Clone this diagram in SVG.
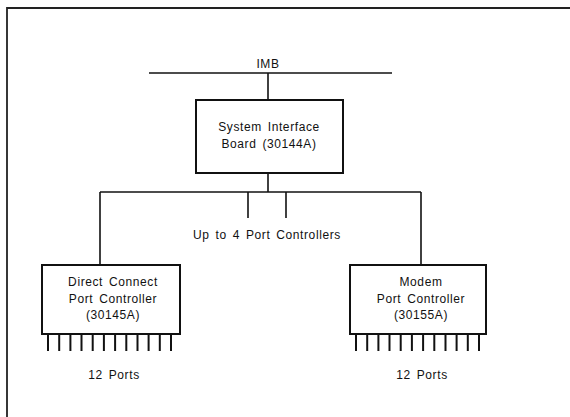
<svg xmlns="http://www.w3.org/2000/svg" width="570" height="417" viewBox="0 0 570 417">
<style>
.t{font-family:"Liberation Sans",Arial,sans-serif;font-size:12px;letter-spacing:0.6px;word-spacing:2px;fill:#111;text-anchor:middle}
.b{fill:#fff;stroke:#111;stroke-width:2}
.l{stroke:#111;stroke-width:1.6;fill:none}
.p{stroke:#111;stroke-width:2}
</style>
<rect width="570" height="417" fill="#fff"/>
<path d="M7,417 V8 H570" fill="none" stroke="#222" stroke-width="1.8"/>
<g id="connectors">
<line class="l" x1="149" y1="73" x2="392" y2="73"/>
<line class="l" x1="268" y1="73" x2="268" y2="100"/>
<line class="l" x1="268" y1="173" x2="268" y2="192"/>
<line class="l" x1="100" y1="192" x2="421" y2="192"/>
<line class="l" x1="248" y1="192" x2="248" y2="218"/>
<line class="l" x1="286" y1="192" x2="286" y2="218"/>
<line class="l" x1="100" y1="192" x2="100" y2="265"/>
<line class="l" x1="421" y1="192" x2="421" y2="265"/>
</g>
<g id="imb">
<text class="t" x="268" y="68">IMB</text>
</g>
<g id="sib">
<rect class="b" x="196" y="100" width="147" height="73"/>
<text class="t" x="269" y="131">System Interface</text>
<text class="t" x="269" y="148">Board (30144A)</text>
</g>
<g id="upto">
<text class="t" x="267" y="239">Up to 4 Port Controllers</text>
</g>
<g id="dcpc">
<rect class="b" x="42" y="265" width="138" height="69"/>
<text class="t" x="113" y="286">Direct Connect</text>
<text class="t" x="113" y="303">Port Controller</text>
<text class="t" x="113" y="319">(30145A)</text>
<g class="p">
<line x1="48" y1="334" x2="48" y2="351"/>
<line x1="59.2" y1="334" x2="59.2" y2="351"/>
<line x1="70.4" y1="334" x2="70.4" y2="351"/>
<line x1="81.5" y1="334" x2="81.5" y2="351"/>
<line x1="92.7" y1="334" x2="92.7" y2="351"/>
<line x1="103.9" y1="334" x2="103.9" y2="351"/>
<line x1="115.1" y1="334" x2="115.1" y2="351"/>
<line x1="126.3" y1="334" x2="126.3" y2="351"/>
<line x1="137.5" y1="334" x2="137.5" y2="351"/>
<line x1="148.6" y1="334" x2="148.6" y2="351"/>
<line x1="159.8" y1="334" x2="159.8" y2="351"/>
<line x1="171" y1="334" x2="171" y2="351"/>
</g>
<text class="t" x="114" y="379">12 Ports</text>
</g>
<g id="mpc">
<rect class="b" x="350" y="265" width="136" height="69"/>
<text class="t" x="421" y="286">Modem</text>
<text class="t" x="421" y="303">Port Controller</text>
<text class="t" x="421" y="319">(30155A)</text>
<g class="p">
<line x1="356" y1="334" x2="356" y2="351"/>
<line x1="367.2" y1="334" x2="367.2" y2="351"/>
<line x1="378.4" y1="334" x2="378.4" y2="351"/>
<line x1="389.5" y1="334" x2="389.5" y2="351"/>
<line x1="400.7" y1="334" x2="400.7" y2="351"/>
<line x1="411.9" y1="334" x2="411.9" y2="351"/>
<line x1="423.1" y1="334" x2="423.1" y2="351"/>
<line x1="434.3" y1="334" x2="434.3" y2="351"/>
<line x1="445.5" y1="334" x2="445.5" y2="351"/>
<line x1="456.6" y1="334" x2="456.6" y2="351"/>
<line x1="467.8" y1="334" x2="467.8" y2="351"/>
<line x1="479" y1="334" x2="479" y2="351"/>
</g>
<text class="t" x="422" y="379">12 Ports</text>
</g>
</svg>
